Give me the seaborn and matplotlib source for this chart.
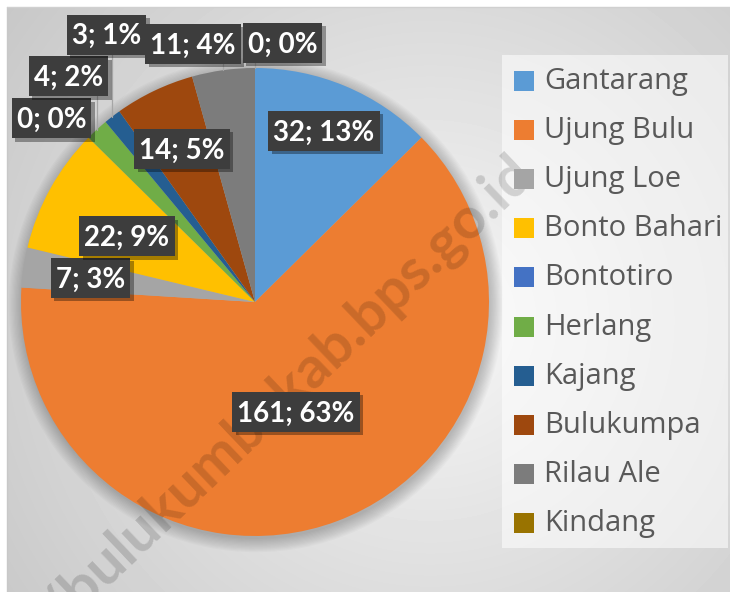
import numpy as np
import matplotlib
matplotlib.use("Agg")
import matplotlib.pyplot as plt
import matplotlib.patheffects as pe
from matplotlib.patches import Rectangle, Circle
import seaborn as sns

# ---------------- data ----------------
CATEGORIES = ["Gantarang", "Ujung Bulu", "Ujung Loe", "Bonto Bahari", "Bontotiro",
              "Herlang", "Kajang", "Bulukumpa", "Rilau Ale", "Kindang"]
VALUES = [32, 161, 7, 22, 0, 4, 3, 14, 11, 0]
PERCENT_LABELS = ["13%", "63%", "3%", "9%", "0%", "2%", "1%", "5%", "4%", "0%"]
WATERMARK = "https://bulukumbakab.bps.go.id"

# ---------------- style ----------------
COLORS = ["#5B9BD5", "#ED7D31", "#A5A5A5", "#FFC000", "#4472C4",
          "#70AD47", "#255E91", "#9E480E", "#7C7C7C", "#997300"]
# label box centres, in pie-radius units relative to the pie centre (x right, y up)
LABEL_OFFSETS = [(0.295, 0.731), (0.175, -0.470), (-0.703, 0.103), (-0.547, 0.280),
                 (-0.870, 0.786), (-0.797, 0.964), (-0.635, 1.143), (-0.312, 0.654),
                 (-0.265, 1.103), (0.118, 1.107)]
LEADER = [False, False, False, False, True, True, True, False, True, True]

sns.set_theme(style="white")
plt.rcParams["font.family"] = ["Lato", "DejaVu Sans"]

W, H = 730, 592
fig = plt.figure(figsize=(W / 100, H / 100), dpi=100)
ax = fig.add_axes([0, 0, 1, 1])

# ---- background vignette ----
gx0, gx1, gy0, gy1 = 7, W, 0, H - 7
yy, xx = np.mgrid[0:(gy1 - gy0), 0:(gx1 - gx0)]
xx = xx + gx0
yy = yy + 7  # y measured from top
d = np.sqrt(((xx - 430) / 460.0) ** 2 + ((yy - 320) / 460.0) ** 2)
val = 0.975 - 0.17 * np.clip(d, 0, 1.25) ** 0.9
ax.imshow(val, cmap="gray", vmin=0, vmax=1, extent=(gx0, gx1, gy0, gy1),
          origin="upper", zorder=0, interpolation="bilinear", aspect="auto")
ax.plot([gx0, gx0], [gy0, gy1], color="#c8c8c8", lw=1, zorder=0.5)
ax.plot([gx0, gx1], [gy1, gy1], color="#d0d0d0", lw=1, zorder=0.5)

# ---- pie ----
cx, cy, R = 255, H - 302, 234
for k in range(12):
    ax.add_patch(Circle((cx + 1, cy - 3), R + 1.2 * k, facecolor="black",
                        alpha=0.02, edgecolor="none", zorder=1))
wedges, _ = ax.pie(VALUES, colors=COLORS, startangle=90, counterclock=False,
                   center=(cx, cy), radius=R, wedgeprops=dict(linewidth=0))
for w in wedges:
    w.set_zorder(2)

ax.set_xlim(0, W)
ax.set_ylim(0, H)
ax.set_aspect("auto")
ax.axis("off")

# ---- watermark ----
ax.text(536, H - 176, WATERMARK, rotation=43.6, rotation_mode="anchor",
        ha="right", va="baseline", fontsize=42, fontweight="bold",
        color="black", alpha=0.15, zorder=3)

# ---- data labels ----
label_texts = []
for i, (v, p) in enumerate(zip(VALUES, PERCENT_LABELS)):
    lx = cx + LABEL_OFFSETS[i][0] * R
    ly = cy + LABEL_OFFSETS[i][1] * R
    t = ax.text(lx, ly - 9.8, f"{v}; {p}", ha="center", va="baseline", fontsize=20,
                fontweight="bold", color="white", zorder=7)
    label_texts.append((t, lx, ly))

fig.canvas.draw()
renderer = fig.canvas.get_renderer()
for i, (t, lx, ly) in enumerate(label_texts):
    bb = t.get_window_extent(renderer)
    wbox = bb.width + 10
    box = Rectangle((lx - wbox / 2, ly - 20), wbox, 40, facecolor="#3d3d3d",
                    edgecolor="none", zorder=6)
    box.set_path_effects([pe.withSimplePatchShadow(offset=(2.5, -2.5), shadow_rgbFace="black",
                                                   alpha=0.35), pe.Normal()])
    ax.add_patch(box)
    if LEADER[i]:
        w = wedges[i]
        th = np.deg2rad((w.theta1 + w.theta2) / 2)
        px, py = cx + R * np.cos(th), cy + R * np.sin(th)
        ybot = ly - 20
        if ybot > py:
            ax.plot([px, px], [py, ybot], color="#a6a6a6", lw=0.9, zorder=4)

# ---- legend ----
ax.add_patch(Rectangle((502, H - 548), 226, 493, facecolor="white", alpha=0.55,
                       edgecolor="none", zorder=2))
for i, (name, col) in enumerate(zip(CATEGORIES, COLORS)):
    yc = H - (81 + 49.1 * i)
    ax.add_patch(Rectangle((514, yc - 10), 20, 20, facecolor=col, edgecolor="none", zorder=3))
    ax.text(544, yc - 8, name, ha="left", va="baseline", fontsize=21,
            family=["Open Sans", "DejaVu Sans"], color="#595959", zorder=3)

fig.savefig("out.png", dpi=100, facecolor="white")
